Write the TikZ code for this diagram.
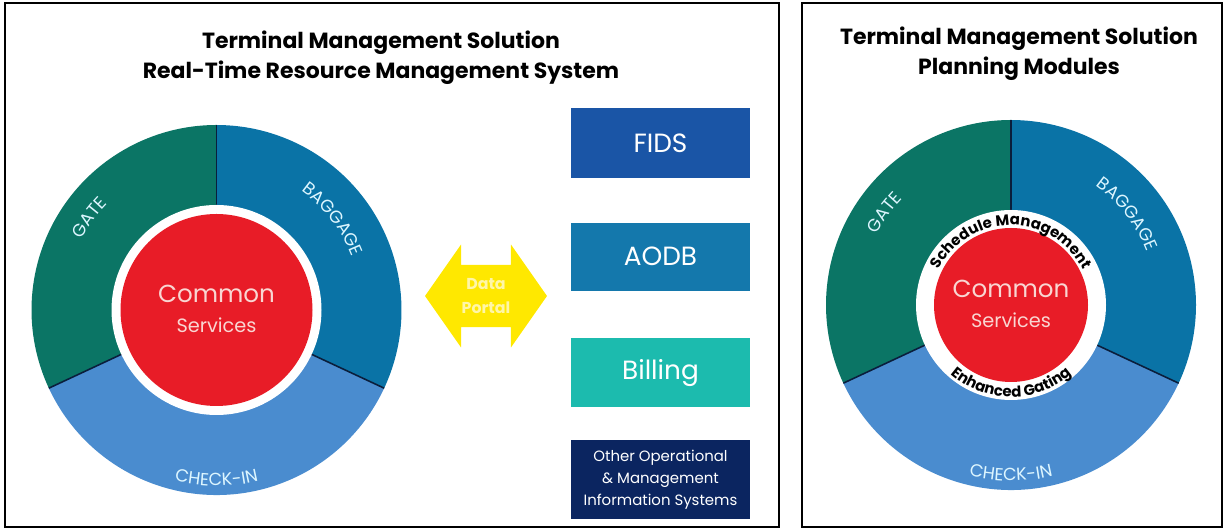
\documentclass[tikz,border=0pt]{standalone}
\usepackage{fontspec}
\setmainfont{Poppins}
\usetikzlibrary{positioning,shapes.arrows,decorations.text}
\definecolor{gateColor}{HTML}{0B7565}
\definecolor{baggageColor}{HTML}{0A73A6}
\definecolor{checkinColor}{HTML}{4A8CCF}
\definecolor{commonColor}{HTML}{E81C27}
\definecolor{commonPink}{HTML}{F9D6D2}
\definecolor{fidsColor}{HTML}{1A55A6}
\definecolor{aodbColor}{HTML}{1478AC}
\definecolor{billingColor}{HTML}{1CBBAE}
\definecolor{otherColor}{HTML}{0B2560}
\definecolor{portalColor}{HTML}{FFE800}
\definecolor{portalText}{HTML}{FFF6A8}
\definecolor{dividerColor}{HTML}{0A1E3C}
\definecolor{labelColor}{HTML}{DDF6FF}
\tikzstyle{panelFrame} = [line width=1.6pt]
\tikzstyle{titleText} = [font=\bfseries\fontsize{12.5}{17}\selectfont, align=center]
\tikzstyle{systemBox} = [minimum width=3.58cm, inner sep=0pt, text=white, font=\fontsize{15}{18}\selectfont]
\tikzstyle{dividerLine} = [color=dividerColor, line width=0.9pt]
\tikzstyle{commonText} = [align=center, text=commonPink, font=\fontsize{11}{17}\selectfont]
\newcommand{\ringLabel}[4]{\path [decorate, decoration={text along path, text align=center, text={|\color{labelColor}\fontsize{10}{10}\selectfont|#4}}] (#1:#3) arc (#1:#2:#3);}
\newcommand{\innerLabel}[4]{\path [decorate, decoration={text along path, text align=center, text={|\bfseries\fontsize{8.5}{9}\selectfont|#4}}] (#1:#3) arc (#1:#2:#3);}
\newcommand{\terminalRing}[4]{
  \begin{scope}[shift={#2}]
    \fill [gateColor] (0,0) -- (90:185) arc (90:205:185) -- cycle;
    \fill [checkinColor] (0,0) -- (205:185) arc (205:335:185) -- cycle;
    \fill [baggageColor] (0,0) -- (-25:185) arc (-25:90:185) -- cycle;
    \foreach \angle in {90,205,335} {
      \draw [dividerLine] (0,0) -- (\angle:185);
    }
    \fill [white] (0,0) circle (#3);
    \fill [commonColor] (0,0) circle (#4);
    \node [commonText] (#1) at (0,1) {{\fontsize{14}{17}\selectfont Common}\\Services};
    \ringLabel{172}{116}{152}{GATE}
    \ringLabel{68}{8}{146}{BAGGAGE}
    \ringLabel{235}{305}{176}{CHECK-IN}
  \end{scope}
}

\begin{document}
\begin{tikzpicture}[x=0.02cm, y=0.02cm]
  \useasboundingbox (0,0) rectangle (1225,530);

  % left panel
  \draw [panelFrame] (5,3) rectangle (779,527);
  \node [titleText] (leftTitle) at (381,472) {Terminal Management Solution\\Real-Time Resource Management System};
  \terminalRing{leftCommon}{(216.5,220)}{105}{96}

  \node [double arrow, fill=portalColor, minimum height=2.44cm, minimum width=2.06cm,
         double arrow head extend=0.26cm, double arrow tip angle=110, inner sep=1pt,
         align=center, text=portalText, font=\bfseries\fontsize{9}{14}\selectfont] (portal) at (486,234) {Data\\Portal};

  \node [systemBox, fill=fidsColor, minimum height=1.4cm] (fids) at (660.5,387) {FIDS};
  \node [systemBox, fill=aodbColor, minimum height=1.36cm, below=0.88cm of fids] (aodb) {AODB};
  \node [systemBox, fill=billingColor, minimum height=1.38cm, below=0.94cm of aodb] (billing) {Billing};
  \node [systemBox, fill=otherColor, minimum height=1.58cm, below=0.64cm of billing, align=center,
         font=\fontsize{8.5}{12.5}\selectfont] (other) {Other Operational\\\& Management\\Information Systems};

  % right panel
  \draw [panelFrame] (802,3) rectangle (1222,527);
  \node [titleText] (rightTitle) at (1019,476) {Terminal Management Solution\\Planning Modules};
  \terminalRing{rightCommon}{(1011,225)}{95}{77}
  \begin{scope}[shift={(1011,225)}]
    \innerLabel{175}{5}{80}{Schedule Management}
    \innerLabel{200}{340}{92}{Enhanced Gating}
  \end{scope}
\end{tikzpicture}
\end{document}
